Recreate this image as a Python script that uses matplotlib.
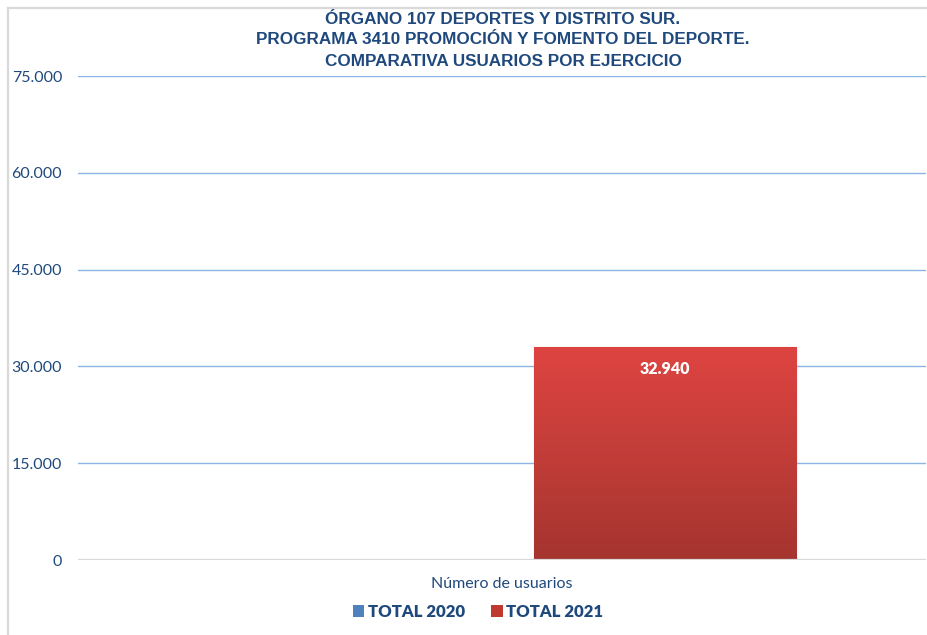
import numpy as np
import matplotlib
matplotlib.use("Agg")
import matplotlib.pyplot as plt
from matplotlib.patches import Patch
from matplotlib.lines import Line2D
from matplotlib.colors import LinearSegmentedColormap

# data
categoria = "Número de usuarios"
series = ["TOTAL 2020", "TOTAL 2021"]
valores = [0, 32940]
titulo = ["ÓRGANO 107 DEPORTES Y DISTRITO SUR.",
          "PROGRAMA 3410 PROMOCIÓN Y FOMENTO DEL DEPORTE.",
          "COMPARATIVA USUARIOS POR EJERCICIO"]
yticks = [0, 15000, 30000, 45000, 60000, 75000]

AZUL_TXT = "#1F497D"
colores = ["#4F81BD", "#C0392F"]


def fmt_es(v):
    return f"{v:,.0f}".replace(",", ".")


fig = plt.figure(figsize=(9.28, 6.35), dpi=100)
ax = fig.add_axes([78 / 928, 1 - 560 / 635, 848 / 928, 484 / 635])

# chart border (top and left, as in the reference)
fig.add_artist(Line2D([8 / 928, 1], [1 - 8 / 635, 1 - 8 / 635],
                      transform=fig.transFigure, color="#D9D9D9", lw=1.6))
fig.add_artist(Line2D([8 / 928, 8 / 928], [0, 1 - 8 / 635],
                      transform=fig.transFigure, color="#D9D9D9", lw=1.6))

ancho = 0.309
offs = [-0.192, 0.192]
grad = LinearSegmentedColormap.from_list("rojo", ["#A5342F", "#C23D38", "#DE4441"])
for off, v, c in zip(offs, valores, colores):
    bars = ax.bar(off, v, width=ancho, color=c, edgecolor="#B03A35",
                  linewidth=0.8, zorder=3)
    if v > 0:
        b = bars[0]
        im = ax.imshow(np.linspace(0, 1, 256).reshape(-1, 1), cmap=grad,
                       origin="lower", aspect="auto", zorder=3.5,
                       extent=[off - ancho / 2, off + ancho / 2, 0, v])
        im.set_clip_path(b)
        ax.text(off, v - 3300, fmt_es(v), ha="center", va="center",
                color="white", fontsize=11.5, fontweight="heavy",
                family="Lato", zorder=5)

ax.set_xlim(-0.5, 0.5)
ax.set_ylim(0, 75000)
ax.set_yticks(yticks)
ax.set_yticklabels([fmt_es(t) for t in yticks], color=AZUL_TXT,
                   fontsize=11.5, family="Lato")
ax.tick_params(axis="y", length=0, pad=11.5)
ax.set_xticks([0])
ax.set_xticklabels([categoria], color=AZUL_TXT, fontsize=11.5, family="Lato")
ax.tick_params(axis="x", length=0, pad=12)

for t in yticks[1:]:
    ax.axhline(t, color="#8DB4E2", lw=1.0, zorder=1)
ax.axhline(0, color="#D9D9D9", lw=1.6, zorder=4)
for s in ax.spines.values():
    s.set_visible(False)

fig.text(503 / 928, 1 - 40 / 635, "\n".join(titulo), ha="center", va="center",
         color=AZUL_TXT, fontsize=12.3, fontweight="bold",
         family="Liberation Sans", linespacing=1.5)

handles = [Patch(facecolor=c, edgecolor="none") for c in colores]
leg = fig.legend(handles, series, loc="center", bbox_to_anchor=(478 / 928, 1 - 612 / 635),
                 ncol=2, frameon=False, handlelength=0.7, handleheight=0.7,
                 handletextpad=0.2, columnspacing=1.6,
                 prop={"family": "Lato", "weight": "heavy", "size": 12})
for t in leg.get_texts():
    t.set_color(AZUL_TXT)

fig.savefig("out.png", dpi=100)
